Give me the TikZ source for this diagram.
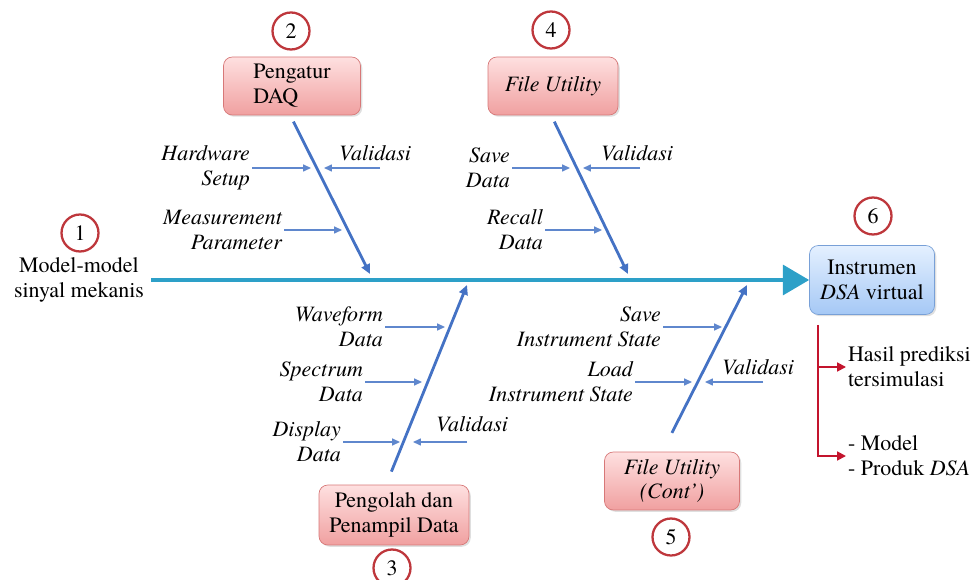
\documentclass[tikz,border=0pt]{standalone}
\usepackage{fontspec}
\setmainfont{TeX Gyre Termes}
\usetikzlibrary{arrows.meta,shadows}

\definecolor{bonecol}{RGB}{68,114,196}
\definecolor{ribcol}{RGB}{95,135,205}
\definecolor{spinecol}{RGB}{45,160,200}
\definecolor{numcol}{RGB}{190,55,60}
\definecolor{outcol}{RGB}{195,20,45}
\definecolor{pinktop}{RGB}{254,224,224}
\definecolor{pinkbot}{RGB}{240,160,160}
\definecolor{pinkline}{RGB}{215,120,120}
\definecolor{bluetop}{RGB}{228,240,255}
\definecolor{bluebot}{RGB}{165,200,245}
\definecolor{blueline}{RGB}{120,160,215}

\begin{document}
\begin{tikzpicture}[x=0.02cm, y=-0.02cm, font=\fontsize{12.5}{14.2}\selectfont,
   cause/.style={draw=pinkline, rounded corners=5pt, top color=pinktop, bottom color=pinkbot,
                 drop shadow={shadow xshift=1pt, shadow yshift=-1pt, opacity=0.25},
                 align=center, minimum height=1.16cm},
   effect/.style={draw=blueline, rounded corners=5pt, top color=bluetop, bottom color=bluebot,
                 drop shadow={shadow xshift=1pt, shadow yshift=-1pt, opacity=0.25},
                 align=center, minimum width=2.5cm, minimum height=1.38cm},
   num/.style={circle, draw=numcol, line width=1.3pt, fill=white, minimum size=0.74cm, inner sep=0pt},
   lbl/.style={font=\fontsize{12.5}{14.2}\selectfont\itshape, align=right, inner sep=1pt},
   spine/.style={spinecol, line width=2.3pt, -{Triangle[length=15pt, width=17pt]}},
   bone/.style={bonecol, line width=1.6pt, -{Triangle[length=5.5pt, width=5pt]}},
   rib/.style={ribcol, line width=0.7pt, -{Triangle[length=4.5pt, width=4pt]}},
   result/.style={outcol, line width=1.1pt, -{Triangle[length=5pt, width=5pt]}}]
   \useasboundingbox (0,0) rectangle (979,580);

   % head and tail
   \node[num] (n1) at (80,233) {1};
   \node[align=center, inner sep=4pt] (model) at (79,280) {Model-model\\sinyal mekanis};
   \node[effect] (dsa) at (872,280) {Instrumen\\\textit{DSA} virtual};
   \node[num] (n6) at (873,216) {6};
   \draw[spine] (model.east) -- (dsa.west);

   % causes
   \node[cause, minimum width=2.74cm, align=left] (daq)  at (292,86)  {Pengatur\\DAQ};
   \node[num] (n2) at (291,31) {2};
   \node[cause, minimum width=2.6cm]  (file) at (553,86)  {\textit{File Utility}};
   \node[num] (n4) at (551,30) {4};
   \node[cause, minimum width=3cm, minimum height=1.2cm] (olah) at (394,515) {Pengolah dan\\Penampil Data};
   \node[num] (n3) at (392,568) {3};
   \node[cause, minimum width=2.7cm]  (cont) at (672,481) {\textit{File Utility}\\\textit{(Cont')}};
   \node[num] (n5) at (671,537) {5};

   % bones
   \coordinate (j2) at (370,274);
   \coordinate (j4) at (628,274);
   \coordinate (j3) at (467,285);
   \coordinate (j5) at (747,285);
   \draw[bone, shorten <=4pt] ([xshift=-1pt]daq.south) -- (j2);
   \draw[bone, shorten <=4pt] ([xshift=-1pt]file.south) -- (j4);
   \draw[bone, shorten <=8pt] ([xshift=-4.5pt]olah.north) -- (j3);
   \draw[bone, shorten <=12pt] ([xshift=-5.5pt]cont.north) -- (j5);

   % sub causes
   \node[lbl, anchor=east] (hw)   at (252,168) {Hardware\\Setup};
   \node[lbl, anchor=east] (meas) at (284,230) {Measurement\\Parameter};
   \node[lbl] (val2) at (375,153) {Validasi};
   \coordinate (v2) at (380,168);
   \draw[rib] (hw.east) -- ++(59,0);
   \draw[rib] (meas.east) -- ++(58,0);
   \draw[rib] (v2) -- ++(-56,0);

   \node[lbl, anchor=east] (save)   at (512,168) {Save\\Data};
   \node[lbl, anchor=east] (recall) at (545,230) {Recall\\Data};
   \node[lbl] (val4) at (637,153) {Validasi};
   \coordinate (v4) at (640,168);
   \draw[rib] (save.east) -- ++(58,0);
   \draw[rib] (recall.east) -- ++(57,0);
   \draw[rib] (v4) -- ++(-57,0);

   \node[lbl, anchor=east] (wave) at (385,327) {Waveform\\Data};
   \node[lbl, anchor=east] (spec) at (365,382) {Spectrum\\Data};
   \node[lbl, anchor=east] (disp) at (343,442) {Display\\Data};
   \node[lbl] (val3) at (472,424) {Validasi};
   \coordinate (v3) at (467,442);
   \draw[rib] (wave.east) -- ++(60,0);
   \draw[rib] (spec.east) -- ++(57,0);
   \draw[rib] (disp.east) -- ++(57,0);
   \draw[rib] (v3) -- ++(-54,0);

   \node[lbl, anchor=east] (savest) at (663,327) {Save\\Instrument State};
   \node[lbl, anchor=east] (loadst) at (635,382) {Load\\Instrument State};
   \node[lbl] (val5) at (758,367) {Validasi};
   \coordinate (v5) at (763,382);
   \draw[rib] (savest.east) -- ++(59,0);
   \draw[rib] (loadst.east) -- ++(57,0);
   \draw[rib] (v5) -- ++(-58,0);

   % results
   \node[align=left, anchor=west, inner sep=1pt] (hasil)  at (846,367) {Hasil prediksi\\tersimulasi};
   \node[align=left, anchor=west, inner sep=1pt] (produk) at (846,456) {- Model\\- Produk \textit{DSA}};
   \coordinate (rtop) at (818,325);
   \draw[result] (rtop) |- (produk.west);
   \draw[result] (rtop |- hasil.west) -- (hasil.west);
\end{tikzpicture}
\end{document}
